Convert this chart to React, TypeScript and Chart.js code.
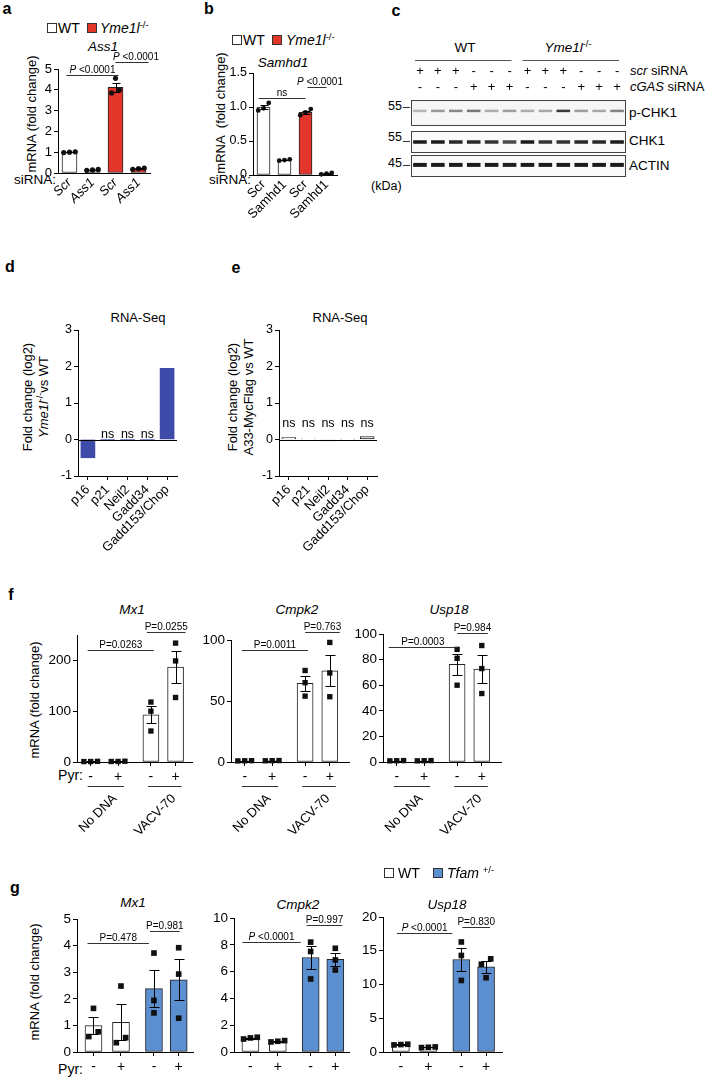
import React, { useEffect, useRef } from 'react';
import { Chart, registerables } from 'chart.js';
Chart.register(...registerables);

const FONT = '"Liberation Sans", Arial, Helvetica, sans-serif';
const RED = '#e4352b';
const NAVY = '#3f4ba8';
const BLUE = '#5b8fd0';

// ---------------- data: panel a
const aSiRNA = ['Scr', 'Ass1', 'Scr', 'Ass1'];
const aGenotype = ['WT', 'WT', 'Yme1l', 'Yme1l'];
const aMean = [1.0, 0.15, 4.12, 0.21];
const aReps = [[1.0, 1.02, 0.98], [0.15, 0.17, 0.13], [4.55, 4.0, 3.85], [0.21, 0.24, 0.18]];
const aCompare = [[0, 2], [2, 3]];
const aP = ['P <0.0001', 'P <0.0001'];

// ---------------- data: panel b
const bSiRNA = ['Scr', 'Samhd1', 'Scr', 'Samhd1'];
const bGenotype = ['WT', 'WT', 'Yme1l', 'Yme1l'];
const bMean = [1.0, 0.22, 0.92, 0.02];
const bReps = [[1.06, 0.98, 0.95], [0.22, 0.23, 0.21], [0.97, 0.92, 0.88], [0.02, 0.03, 0.01]];
const bCompare = [[0, 2], [2, 3]];
const bP = ['ns', 'P <0.0001'];

// ---------------- data: panel c (western blot band intensities, 0..1)
const blotGenotype = ['WT', 'WT', 'WT', 'WT', 'WT', 'WT', 'Yme1l', 'Yme1l', 'Yme1l', 'Yme1l', 'Yme1l', 'Yme1l'];
const scrSiRNA = ['+', '+', '+', '-', '-', '-', '+', '+', '+', '-', '-', '-'];
const cgasSiRNA = ['-', '-', '-', '+', '+', '+', '-', '-', '-', '+', '+', '+'];
const pChk1Band = [0.28, 0.4, 0.48, 0.55, 0.32, 0.38, 0.32, 0.34, 0.82, 0.38, 0.34, 0.5];
const chk1Band = [0.95, 0.95, 0.9, 0.9, 0.85, 0.75, 0.95, 0.85, 0.85, 0.9, 0.9, 0.95];
const actinBand = [0.95, 0.95, 0.95, 0.95, 0.95, 0.93, 0.95, 0.95, 0.95, 0.95, 0.95, 0.95];

// ---------------- data: panels d, e
const seqGenes = ['p16', 'p21', 'Neil2', 'Gadd34', 'Gadd153/Chop'];
const dLog2FC = [-0.5, 0, 0, 0, 1.95];
const dSig = ['', 'ns', 'ns', 'ns', ''];
const eLog2FC = [0.05, 0.02, -0.04, 0.01, 0.08];
const eSig = ['ns', 'ns', 'ns', 'ns', 'ns'];

// ---------------- data: panel f
const fPyr = ['-', '+', '-', '+'];
const fGroups = ['No DNA', 'VACV-70'];
const fMx1Mean = [1.0, 1.2, 93, 187];
const fMx1Reps = [[1.3, 0.8, 0.9], [1.5, 1.0, 1.1], [118, 100, 61], [234, 199, 127]];
const fMx1P = ['P=0.0263', 'P=0.0255'];
const fCmpk2Mean = [1.0, 1.1, 64.5, 74.8];
const fCmpk2Reps = [[1.1, 0.9, 1.0], [1.2, 1.0, 1.1], [75, 65, 54], [98, 73, 53.5]];
const fCmpk2P = ['P=0.0011', 'P=0.763'];
const fUsp18Mean = [1.0, 1.0, 76.3, 72.5];
const fUsp18Reps = [[1.0, 1.1, 0.9], [0.9, 1.0, 1.1], [88, 81, 60], [91, 73, 53.5]];
const fUsp18P = ['P=0.0003', 'P=0.984'];
const pyrCompare = [[0, 2], [2, 3]];

// ---------------- data: panel g
const gGenotype = ['WT', 'WT', 'Tfam', 'Tfam'];
const gPyr = ['-', '+', '-', '+'];
const gMx1Mean = [0.99, 1.12, 2.38, 2.71];
const gMx1Reps = [[1.64, 0.76, 0.58], [2.48, 0.35, 0.54], [3.72, 1.94, 1.47], [3.92, 2.93, 1.27]];
const gMx1P = ['P=0.478', 'P=0.981'];
const gCmpk2Mean = [1.04, 0.8, 7.05, 6.91];
const gCmpk2Reps = [[1.1, 1.05, 0.97], [0.75, 0.85, 0.8], [8.2, 7.5, 5.45], [7.74, 6.87, 6.12]];
const gCmpk2P = ['P <0.0001', 'P=0.997'];
const gUsp18Mean = [1.1, 0.7, 13.7, 12.6];
const gUsp18Reps = [[1.15, 1.1, 1.05], [0.75, 0.65, 0.7], [16.3, 14.3, 10.6], [13.8, 13.0, 11.0]];
const gUsp18P = ['P <0.0001', 'P=0.830'];

// ---------------- layout
const Y_AXIS_W = 30;
const pyrSlots = [1, 2, 3.2, 4.1];

function sem(r: number[]) {
  const n = r.length;
  const m = r.reduce((a, b) => a + b, 0) / n;
  const v = r.reduce((a, b) => a + (b - m) * (b - m), 0) / (n - 1);
  return Math.sqrt(v / n);
}

function spread(vals: number[], thr: number): number[] {
  const idx = vals.map((_, i) => i).sort((a, b) => vals[a] - vals[b]);
  const offs = new Array(vals.length).fill(0);
  let cluster: number[] = [idx[0]];
  const flush = () => {
    const n = cluster.length;
    const pat = n === 1 ? [0] : n === 2 ? [-0.17, 0.17] : [-0.25, 0, 0.25];
    cluster.forEach((k, j) => (offs[k] = pat[j] ?? 0));
  };
  for (let q = 1; q < idx.length; q++) {
    if (vals[idx[q]] - vals[idx[q - 1]] < thr) cluster.push(idx[q]);
    else { flush(); cluster = [idx[q]]; }
  }
  flush();
  return offs;
}

function richParts(text: string, it: boolean): [string, boolean][] {
  if (it && text.startsWith('P')) return [['P', true], [text.slice(1), false]];
  return [[text, false]];
}

function drawRich(ctx: any, parts: [string, boolean][], cx: number, y: number, size: number) {
  const fonts = parts.map(([, it]) => `${it ? 'italic ' : ''}${size}px ${FONT}`);
  let w = 0;
  parts.forEach(([t], k) => { ctx.font = fonts[k]; w += ctx.measureText(t).width; });
  let x = cx - w / 2;
  ctx.textAlign = 'left';
  ctx.textBaseline = 'alphabetic';
  parts.forEach(([t], k) => { ctx.font = fonts[k]; ctx.fillText(t, x, y); x += ctx.measureText(t).width; });
}

function makeDeco(s: any) {
  return {
    id: 'deco',
    afterDatasetsDraw(chart: any) {
      const ctx = chart.ctx;
      const xs = chart.scales.x;
      const ys = chart.scales.y;
      const ca = chart.chartArea;
      ctx.save();
      ctx.strokeStyle = '#000';
      ctx.fillStyle = '#000';
      ctx.lineWidth = 1;
      const hline = (x1: number, x2: number, y: number) => {
        ctx.beginPath(); ctx.moveTo(x1, y); ctx.lineTo(x2, y); ctx.stroke();
      };
      if (s.zero) {
        const y0 = Math.round(ys.getPixelForValue(0)) + 0.5;
        hline(ca.left, ca.right, y0);
      }
      if (s.reps) {
        s.reps.forEach((r: number[], i: number) => {
          const m = s.values[i];
          const e = sem(r);
          const x = Math.round(xs.getPixelForValue(s.xPos[i])) + 0.5;
          const yt = Math.round(ys.getPixelForValue(m + e)) + 0.5;
          const yb = Math.round(ys.getPixelForValue(m - e)) + 0.5;
          ctx.beginPath(); ctx.moveTo(x, yt); ctx.lineTo(x, yb); ctx.stroke();
          hline(x - s.capW / 2, x + s.capW / 2, yt);
          hline(x - s.capW / 2, x + s.capW / 2, yb);
        });
      }
      (s.brackets || []).forEach((b: any) => {
        const x1 = xs.getPixelForValue(s.xPos[b.i]) - (b.dl ?? 3);
        const x2 = xs.getPixelForValue(s.xPos[b.j]) + (b.dr ?? 3);
        const y = Math.round(ys.getPixelForValue(b.y)) + 0.5;
        ctx.strokeStyle = '#333';
        hline(x1, x2, y);
        ctx.fillStyle = '#000';
        drawRich(ctx, richParts(b.text, !!b.it), (x1 + x2) / 2 + (b.dx ?? 0), y - 3, s.pSize ?? 10);
      });
      if (s.sig) {
        ctx.font = `${s.sigSize}px ${FONT}`;
        ctx.textAlign = 'center';
        ctx.textBaseline = 'alphabetic';
        s.sig.forEach((t: string, i: number) => {
          if (!t) return;
          ctx.fillText(t, xs.getPixelForValue(s.xPos[i]), ys.getPixelForValue(s.sigY));
        });
      }
      if (s.groups) {
        const gy = Math.round(ca.bottom + 24) + 0.5;
        s.groups.forEach((g: any) => {
          const x1 = xs.getPixelForValue(s.xPos[g.from]) - 3;
          const x2 = xs.getPixelForValue(s.xPos[g.to]) + 6;
          hline(x1, x2, gy);
          ctx.save();
          ctx.translate((x1 + x2) / 2 + 9, gy + 10);
          ctx.rotate(-Math.PI / 4);
          ctx.font = `13px ${FONT}`;
          ctx.textAlign = 'right';
          ctx.textBaseline = 'middle';
          ctx.fillText(g.label, 0, 0);
          ctx.restore();
        });
      }
      ctx.restore();
    },
  };
}

function barConfig(s: any) {
  const xAxisH = s.box.top + s.box.height - s.area.b;
  const pad = {
    left: s.area.l - s.box.left - Y_AXIS_W,
    top: s.area.t - s.box.top,
    right: s.box.left + s.box.width - s.area.r,
    bottom: 0,
  };
  const pxPerUnit = (s.area.b - s.area.t) / (s.yMax - s.yMin);
  const bars = s.values.map((v: number, i: number) => ({ x: s.xPos[i], y: v }));
  const pts: any[] = [];
  (s.reps || []).forEach((r: number[], i: number) => {
    const offs = spread(r, 5.5 / pxPerUnit);
    r.forEach((v, k) => pts.push({ x: s.xPos[i] + offs[k], y: v }));
  });
  const datasets: any[] = [
    {
      type: 'bar', data: bars, backgroundColor: s.fill, borderColor: s.stroke, borderWidth: s.strokeW,
      borderSkipped: false, barThickness: s.barW, order: 2, clip: false,
    },
  ];
  if (pts.length) {
    datasets.push({
      type: 'scatter', data: pts, pointStyle: s.pStyle, pointRadius: s.pR, backgroundColor: '#111',
      borderColor: '#111', borderWidth: 0, order: 1, clip: false,
    });
  }
  return {
    type: 'bar',
    data: { datasets },
    options: {
      responsive: false,
      animation: false,
      events: [],
      layout: { padding: pad, autoPadding: false },
      plugins: { legend: { display: false }, tooltip: { enabled: false } },
      scales: {
        x: {
          type: 'linear', min: s.xMin, max: s.xMax, offset: false,
          grid: { display: true, drawOnChartArea: false, drawTicks: s.xTickMarks, tickLength: 4, tickColor: '#000', offset: false },
          border: { display: true, color: '#000', width: 1 },
          ticks: {
            autoSkip: false, minRotation: s.rotate, maxRotation: s.rotate, padding: s.rotate ? 2 : 3, color: '#000',
            font: { family: FONT, size: s.xFont.size, style: s.xFont.style || 'normal' },
            callback: (_v: any, i: number) => s.xLabels[i],
          },
          afterBuildTicks: (sc: any) => { sc.ticks = s.xPos.map((v: number) => ({ value: v })); },
          afterFit: (sc: any) => {
            sc.height = xAxisH; sc.paddingLeft = 0; sc.paddingRight = 0; sc.paddingTop = 0; sc.paddingBottom = 0;
          },
        },
        y: {
          type: 'linear', min: s.yMin, max: s.yMax,
          grid: { display: true, drawOnChartArea: false, drawTicks: true, tickLength: 4, tickColor: '#000' },
          border: { display: true, color: '#000', width: 1 },
          ticks: {
            stepSize: s.yStep, padding: 2, color: '#000', autoSkip: false,
            font: { family: FONT, size: s.tickSize },
            callback: (v: number) => (s.yFmt ? s.yFmt(v) : String(v)),
          },
          afterBuildTicks: (sc: any) => {
            if (s.yKeep) sc.ticks = sc.ticks.filter((t: any) => s.yKeep(t.value));
          },
          afterFit: (sc: any) => {
            sc.width = Y_AXIS_W; sc.paddingTop = 0; sc.paddingBottom = 0; sc.paddingLeft = 0; sc.paddingRight = 0;
          },
        },
      },
    },
    plugins: [makeDeco(s)],
  };
}

function blotConfig(intensity: number[], bandY: number, bandH: number, bg: string, padTop: number) {
  const lanes = intensity.map((_, i) => String(i + 1));
  const header = padTop > 5;
  const deco = {
    id: 'blot',
    beforeDatasetsDraw(chart: any) {
      const { ctx, chartArea: ca } = chart;
      ctx.save();
      ctx.fillStyle = bg;
      ctx.fillRect(ca.left, ca.top, ca.right - ca.left, ca.bottom - ca.top);
      ctx.restore();
    },
    afterDraw(chart: any) {
      const { ctx, chartArea: ca } = chart;
      const xs = chart.scales.x;
      ctx.save();
      ctx.strokeStyle = '#444';
      ctx.lineWidth = 1;
      ctx.strokeRect(ca.left + 0.5, ca.top + 0.5, ca.right - ca.left - 1, ca.bottom - ca.top - 1);
      if (header) {
        ctx.fillStyle = '#000';
        ctx.font = `13px ${FONT}`;
        ctx.textAlign = 'center';
        ctx.textBaseline = 'middle';
        lanes.forEach((_, i) => {
          const x = xs.getPixelForValue(i);
          ctx.fillText(scrSiRNA[i], x, ca.top - 29);
          ctx.fillText(cgasSiRNA[i], x, ca.top - 13);
        });
        let start = 0;
        for (let i = 1; i <= blotGenotype.length; i++) {
          if (i === blotGenotype.length || blotGenotype[i] !== blotGenotype[start]) {
            const x1 = xs.getPixelForValue(start) - 5;
            const x2 = xs.getPixelForValue(i - 1) + 2;
            ctx.strokeStyle = '#555';
            ctx.beginPath(); ctx.moveTo(x1, ca.top - 39.5); ctx.lineTo(x2, ca.top - 39.5); ctx.stroke();
            start = i;
          }
        }
      }
      ctx.restore();
    },
  };
  return {
    type: 'line',
    data: {
      labels: lanes,
      datasets: [{
        data: intensity.map(() => bandY),
        showLine: false,
        pointStyle: 'line',
        pointRadius: 6.8,
        pointBorderWidth: bandH,
        pointBorderColor: intensity.map((v) => `rgba(15,15,15,${v})`),
        pointBackgroundColor: 'transparent',
        clip: false,
      }],
    },
    options: {
      responsive: false, animation: false, events: [],
      layout: { padding: { top: padTop, left: 1, right: 1, bottom: 1 }, autoPadding: false },
      plugins: { legend: { display: false }, tooltip: { enabled: false } },
      scales: {
        x: { type: 'category', display: false, offset: true },
        y: { type: 'linear', display: false, min: 0, max: 1 },
      },
    },
    plugins: [deco],
  };
}

function ChartBox({ box, make }: { box: any; make: () => any }) {
  const ref = useRef<HTMLCanvasElement | null>(null);
  useEffect(() => {
    if (!ref.current) return;
    const ch = new Chart(ref.current, make());
    return () => ch.destroy();
  }, []);
  return (
    <canvas
      ref={ref}
      width={box.width}
      height={box.height}
      style={{ position: 'absolute', left: box.left, top: box.top, width: box.width, height: box.height }}
    />
  );
}

const Sup = ({ children }: any) => (
  <span style={{ fontSize: '0.68em', position: 'relative', top: '-0.55em', fontStyle: 'normal' }}>{children}</span>
);

const T = ({ x, y, size = 13, align = 'center', rot = 0, bold = false, italic = false, children }: any) => {
  const tx = align === 'center' ? '-50%' : align === 'right' ? '-100%' : '0%';
  return (
    <div
      style={{
        position: 'absolute', left: x, top: y, transform: `translate(${tx},-50%) rotate(${rot}deg)`,
        whiteSpace: 'nowrap', fontFamily: FONT, fontSize: size, lineHeight: 1.15,
        fontWeight: bold ? 700 : 400, fontStyle: italic ? 'italic' : 'normal', color: '#000',
      }}
    >
      {children}
    </div>
  );
};

const Sq = ({ x, y, fill }: any) => (
  <div style={{ position: 'absolute', left: x, top: y, width: 10, height: 10, boxSizing: 'border-box', border: '1px solid #333', background: fill }} />
);

const Dash = ({ x, y }: any) => (
  <div style={{ position: 'absolute', left: x, top: y, width: 7, height: 1, background: '#333' }} />
);

const pyrP = (p: string[], ys: number[], its: boolean[], ext?: any[]) =>
  pyrCompare.map((c, k) => ({ i: c[0], j: c[1], y: ys[k], text: p[k], it: its[k], ...(ext ? ext[k] : {}) }));

export default function App() {
  const specA = {
    box: { left: 0, top: 40, width: 165, height: 232 }, area: { l: 58, r: 150, t: 69, b: 173 },
    yMin: 0, yMax: 5, yStep: 1, tickSize: 13,
    xPos: aSiRNA.map((_, i) => i), xMin: -0.5, xMax: 3.5, xLabels: aSiRNA, xFont: { size: 13, style: 'italic' },
    rotate: 45, xTickMarks: false,
    values: aMean, reps: aReps, fill: aGenotype.map((g) => (g === 'WT' ? '#fff' : RED)), stroke: '#222', strokeW: 1,
    barW: 15, pStyle: 'circle', pR: 2.6, capW: 8, pSize: 10,
    brackets: [
      { i: aCompare[0][0], j: aCompare[0][1], y: 4.7, text: aP[0], it: true },
      { i: aCompare[1][0], j: aCompare[1][1], y: 5.33, text: aP[1], it: true, dl: 0, dr: 10, dx: 4 },
    ],
  };
  const specB = {
    box: { left: 195, top: 40, width: 155, height: 232 }, area: { l: 253, r: 337, t: 73, b: 175 },
    yMin: 0, yMax: 1.5, yStep: 0.5, tickSize: 12.5, yFmt: (v: number) => (v === 0 ? '0' : v.toFixed(1)),
    xPos: bSiRNA.map((_, i) => i), xMin: -0.5, xMax: 3.5, xLabels: bSiRNA, xFont: { size: 13 },
    rotate: 45, xTickMarks: false,
    values: bMean, reps: bReps, fill: bGenotype.map((g) => (g === 'WT' ? '#fff' : RED)), stroke: '#222', strokeW: 1,
    barW: 13, pStyle: 'circle', pR: 2.4, capW: 8, pSize: 10,
    brackets: [
      { i: bCompare[0][0], j: bCompare[0][1], y: 1.13, text: bP[0], it: false, dl: 5, dr: 0 },
      { i: bCompare[1][0], j: bCompare[1][1], y: 1.3, text: bP[1], it: true, dl: -2, dr: 0, dx: 3 },
    ],
  };
  const specD = {
    box: { left: 0, top: 300, width: 190, height: 270 }, area: { l: 78, r: 177, t: 330, b: 476 },
    yMin: -1, yMax: 3, yStep: 1, tickSize: 12.5,
    xPos: seqGenes.map((_, i) => i), xMin: -0.5, xMax: 4.5, xLabels: seqGenes, xFont: { size: 13 },
    rotate: 45, xTickMarks: true,
    values: dLog2FC, fill: dLog2FC.map(() => NAVY), stroke: NAVY, strokeW: 0, barW: 14,
    zero: true, sig: dSig, sigY: 0.04, sigSize: 12.5,
  };
  const specE = {
    box: { left: 215, top: 300, width: 175, height: 270 }, area: { l: 279, r: 377, t: 330, b: 476 },
    yMin: -1, yMax: 3, yStep: 1, tickSize: 12.5,
    xPos: seqGenes.map((_, i) => i), xMin: -0.5, xMax: 4.5, xLabels: seqGenes, xFont: { size: 13 },
    rotate: 45, xTickMarks: true,
    values: eLog2FC, fill: eLog2FC.map(() => '#fff'), stroke: '#222', strokeW: 1, barW: 14,
    zero: true, sig: eSig, sigY: 0.35, sigSize: 12.5,
  };
  const fCommon = {
    xPos: pyrSlots, xLabels: fPyr, xFont: { size: 14 }, rotate: 0, xTickMarks: true,
    stroke: '#222', strokeW: 1, barW: 16, pStyle: 'rect', pR: 3.8, capW: 10, pSize: 10, tickSize: 13.5,
    groups: [{ from: 0, to: 1, label: fGroups[0] }, { from: 2, to: 3, label: fGroups[1] }],
  };
  const specFMx1 = {
    ...fCommon, box: { left: 0, top: 598, width: 205, height: 247 }, area: { l: 77, r: 192, t: 635, b: 762 },
    yMin: 0, yMax: 250, yStep: 100, yKeep: (v: number) => v % 100 === 0, xMin: 0.5, xMax: 4.7,
    values: fMx1Mean, reps: fMx1Reps, fill: fMx1Mean.map(() => '#fff'),
    brackets: pyrP(fMx1P, [220, 256], [false, false], [{}, { dl: 4, dr: 10 }]),
  };
  const specFCmpk2 = {
    ...fCommon, box: { left: 190, top: 598, width: 170, height: 247 }, area: { l: 231, r: 349, t: 640, b: 762 },
    yMin: 0, yMax: 100, yStep: 50, xMin: 0.5, xMax: 4.8,
    values: fCmpk2Mean, reps: fCmpk2Reps, fill: fCmpk2Mean.map(() => '#fff'),
    brackets: pyrP(fCmpk2P, [92, 106.5], [false, false], [{}, { dl: 0, dr: 10 }]),
  };
  const specFUsp18 = {
    ...fCommon, box: { left: 345, top: 598, width: 170, height: 247 }, area: { l: 383, r: 501, t: 634, b: 762 },
    yMin: 0, yMax: 100, yStep: 20, xMin: 0.5, xMax: 4.8,
    values: fUsp18Mean, reps: fUsp18Reps, fill: fUsp18Mean.map(() => '#fff'),
    brackets: pyrP(fUsp18P, [90, 101], [false, false], [{ dl: 8, dr: 0 }, { dl: 0, dr: 6 }]),
  };
  const gCommon = {
    xPos: pyrSlots, xLabels: gPyr, xFont: { size: 14 }, rotate: 0, xTickMarks: true,
    stroke: '#222', strokeW: 1, barW: 17, pStyle: 'rect', pR: 4, capW: 10, pSize: 10, tickSize: 13.5,
  };
  const gFill = gGenotype.map((g) => (g === 'WT' ? '#fff' : BLUE));
  const specGMx1 = {
    ...gCommon, box: { left: 0, top: 895, width: 205, height: 182 }, area: { l: 77, r: 193, t: 919, b: 1052 },
    yMin: 0, yMax: 5, yStep: 1, xMin: 0.4, xMax: 4.62,
    values: gMx1Mean, reps: gMx1Reps, fill: gFill,
    brackets: pyrP(gMx1P, [4.1, 4.55], [false, false], [{ dl: 6, dr: -5 }, { dl: 4, dr: 1 }]),
  };
  const specGCmpk2 = {
    ...gCommon, box: { left: 195, top: 895, width: 165, height: 182 }, area: { l: 234, r: 349, t: 918, b: 1052 },
    yMin: 0, yMax: 10, yStep: 2, xMin: 0.4, xMax: 4.6,
    values: gCmpk2Mean, reps: gCmpk2Reps, fill: gFill,
    brackets: pyrP(gCmpk2P, [8.2, 9.5], [true, false], [{ dl: 8, dr: -10 }, { dl: 4, dr: 7 }]),
  };
  const specGUsp18 = {
    ...gCommon, box: { left: 345, top: 895, width: 170, height: 182 }, area: { l: 383, r: 502, t: 917, b: 1052 },
    yMin: 0, yMax: 20, yStep: 5, xMin: 0.35, xMax: 4.68,
    values: gUsp18Mean, reps: gUsp18Reps, fill: gFill,
    brackets: pyrP(gUsp18P, [17.6, 18.5], [true, false], [{ dl: 4, dr: -9 }, { dl: -1, dr: 4 }]),
  };

  return (
    <div style={{ position: 'absolute', left: 0, top: 0, width: 708, height: 1077, background: '#fff', overflow: 'hidden', fontFamily: FONT }}>
      {/* panel letters */}
      <T x={7} y={9} size={16} bold>a</T>
      <T x={209} y={9} size={16} bold>b</T>
      <T x={396} y={11} size={16} bold>c</T>
      <T x={10} y={267} size={16} bold>d</T>
      <T x={236} y={268} size={16} bold>e</T>
      <T x={11} y={595} size={16} bold>f</T>
      <T x={15} y={888} size={16} bold>g</T>

      {/* panel a */}
      <Sq x={47} y={23} fill="#fff" />
      <T x={58} y={28} size={14} align="left">WT</T>
      <Sq x={87} y={23} fill={RED} />
      <T x={100} y={28} size={14} align="left"><i>Yme1l</i><Sup>-/-</Sup></T>
      <T x={103} y={47} size={13.5} italic>Ass1</T>
      <T x={32} y={114} size={13} rot={-90}>mRNA (fold change)</T>
      <T x={56} y={180} size={13.5} align="right">siRNA:</T>
      <ChartBox box={specA.box} make={() => barConfig(specA)} />

      {/* panel b */}
      <Sq x={232} y={35} fill="#fff" />
      <T x={243} y={40} size={14} align="left">WT</T>
      <Sq x={272} y={35} fill={RED} />
      <T x={286} y={40} size={14} align="left"><i>Yme1l</i><Sup>-/-</Sup></T>
      <T x={283} y={63} size={13.5} italic>Samhd1</T>
      <T x={221} y={113} size={13} rot={-90}>mRNA&nbsp;&nbsp;(fold change)</T>
      <T x={251} y={180} size={13.5} align="right">siRNA:</T>
      <ChartBox box={specB.box} make={() => barConfig(specB)} />

      {/* panel c: blot */}
      <T x={465} y={48} size={13.5}>WT</T>
      <T x={568} y={48} size={13.5}><i>Yme1l</i><Sup>-/-</Sup></T>
      <T x={630} y={71} size={13} align="left"><i>scr</i> siRNA</T>
      <T x={630} y={87} size={13} align="left"><i>cGAS</i> siRNA</T>
      <T x={402} y={106} size={12.5} align="right">55</T>
      <Dash x={403} y={107} />
      <T x={402} y={137} size={12.5} align="right">55</T>
      <Dash x={403} y={141} />
      <T x={402} y={163} size={12.5} align="right">45</T>
      <Dash x={403} y={165} />
      <T x={371} y={186} size={12.5} align="left">(kDa)</T>
      <T x={629} y={113} size={13.5} align="left">p-CHK1</T>
      <T x={629} y={141} size={13.5} align="left">CHK1</T>
      <T x={629} y={166} size={13.5} align="left">ACTIN</T>
      <ChartBox box={{ left: 410, top: 38, width: 217, height: 89 }} make={() => blotConfig(pChk1Band, 0.58, 2.5, '#f6f6f6', 62)} />
      <ChartBox box={{ left: 410, top: 130, width: 217, height: 24 }} make={() => blotConfig(chk1Band, 0.5, 3.5, '#fafafa', 1)} />
      <ChartBox box={{ left: 410, top: 154, width: 217, height: 24 }} make={() => blotConfig(actinBand, 0.55, 4, '#fafafa', 1)} />

      {/* panel d */}
      <T x={138} y={318} size={13}>RNA-Seq</T>
      <div style={{ position: 'absolute', left: 36, top: 397, transform: 'translate(-50%,-50%) rotate(-90deg)', textAlign: 'center', fontSize: 13, lineHeight: '16px', whiteSpace: 'nowrap', fontFamily: FONT }}>
        <div>Fold change (log2)</div>
        <div><i>Yme1l</i><Sup>-/-</Sup>vs WT</div>
      </div>
      <ChartBox box={specD.box} make={() => barConfig(specD)} />

      {/* panel e */}
      <T x={340} y={318} size={13}>RNA-Seq</T>
      <div style={{ position: 'absolute', left: 241, top: 397, transform: 'translate(-50%,-50%) rotate(-90deg)', textAlign: 'center', fontSize: 13, lineHeight: '16px', whiteSpace: 'nowrap', fontFamily: FONT }}>
        <div>Fold change (log2)</div>
        <div>A33-MycFlag vs WT</div>
      </div>
      <ChartBox box={specE.box} make={() => barConfig(specE)} />

      {/* panel f */}
      <T x={132} y={610} size={13.5} italic>Mx1</T>
      <T x={297} y={610} size={13.5} italic>Cmpk2</T>
      <T x={449} y={610} size={13.5} italic>Usp18</T>
      <T x={35} y={700} size={13} rot={-90}>mRNA (fold change)</T>
      <T x={83} y={775} size={14} align="right">Pyr:</T>
      <ChartBox box={specFMx1.box} make={() => barConfig(specFMx1)} />
      <ChartBox box={specFCmpk2.box} make={() => barConfig(specFCmpk2)} />
      <ChartBox box={specFUsp18.box} make={() => barConfig(specFUsp18)} />

      {/* panel g */}
      <Sq x={384} y={868} fill="#fff" />
      <T x={398} y={873} size={14} align="left">WT</T>
      <Sq x={433} y={868} fill={BLUE} />
      <T x={447} y={873} size={14} align="left"><i>Tfam</i> <Sup>+/-</Sup></T>
      <T x={133} y={903} size={13.5} italic>Mx1</T>
      <T x={298} y={905} size={13.5} italic>Cmpk2</T>
      <T x={447} y={905} size={13.5} italic>Usp18</T>
      <T x={35} y={982} size={13} rot={-90}>mRNA (fold change)</T>
      <T x={83} y={1069} size={14} align="right">Pyr:</T>
      <ChartBox box={specGMx1.box} make={() => barConfig(specGMx1)} />
      <ChartBox box={specGCmpk2.box} make={() => barConfig(specGCmpk2)} />
      <ChartBox box={specGUsp18.box} make={() => barConfig(specGUsp18)} />
    </div>
  );
}
